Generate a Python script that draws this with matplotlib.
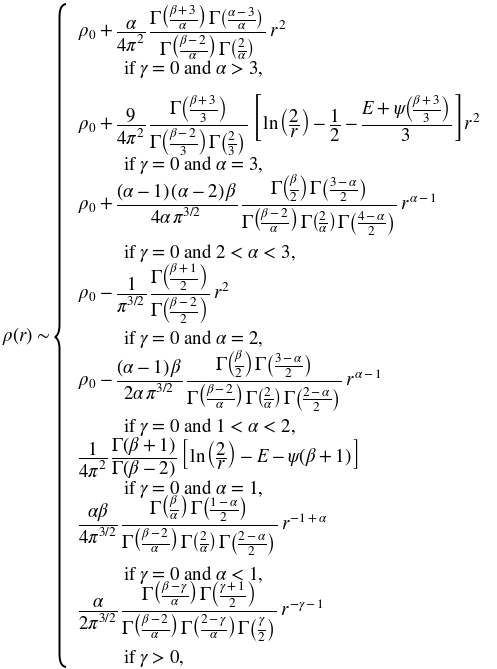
import matplotlib
matplotlib.use('Agg')
import matplotlib.pyplot as plt
from matplotlib.path import Path
from matplotlib.patches import PathPatch

plt.rcParams['font.family'] = 'STIXGeneral'
plt.rcParams['mathtext.fontset'] = 'stix'

P = r'\;{+}\;'
M = r'\;{-}\;'

# case expressions, top to bottom
formulas = [
    r'$\rho_0' + P + r'\dfrac{\alpha}{4\pi^2}\;\dfrac{\Gamma\left(\frac{\beta+3}{\alpha}\right)\,\Gamma\left(\frac{\alpha-3}{\alpha}\right)}'
    r'{\Gamma\left(\frac{\beta-2}{\alpha}\right)\,\Gamma\left(\frac{2}{\alpha}\right)}\;r^2$',
    r'$\rho_0' + P + r'\dfrac{9}{4\pi^2}\;\dfrac{\Gamma\left(\frac{\beta+3}{3}\right)}'
    r'{\Gamma\left(\frac{\beta-2}{3}\right)\,\Gamma\left(\frac{2}{3}\right)}\;'
    r'\left[\,\ln\left(\dfrac{2}{r}\right)' + M + r'\dfrac{1}{2}' + M
    + r'\dfrac{E' + P + r'\psi\left(\frac{\beta+3}{3}\right)}{3}\,\right]r^2$',
    r'$\rho_0' + P + r'\dfrac{(\alpha' + M + r'1)\,(\alpha' + M + r'2)\,\beta}{4\alpha\,\pi^{3/2}}\;'
    r'\dfrac{\Gamma\left(\frac{\beta}{2}\right)\,\Gamma\left(\frac{3-\alpha}{2}\right)}'
    r'{\Gamma\left(\frac{\beta-2}{\alpha}\right)\,\Gamma\left(\frac{2}{\alpha}\right)\,\Gamma\left(\frac{4-\alpha}{2}\right)}\;r^{\alpha-1}$',
    r'$\rho_0' + M + r'\dfrac{1}{\pi^{3/2}}\;\dfrac{\Gamma\left(\frac{\beta+1}{2}\right)}{\Gamma\left(\frac{\beta-2}{2}\right)}\;r^2$',
    r'$\rho_0' + M + r'\dfrac{(\alpha' + M + r'1)\,\beta}{2\alpha\,\pi^{3/2}}\;'
    r'\dfrac{\Gamma\left(\frac{\beta}{2}\right)\,\Gamma\left(\frac{3-\alpha}{2}\right)}'
    r'{\Gamma\left(\frac{\beta-2}{\alpha}\right)\,\Gamma\left(\frac{2}{\alpha}\right)\,\Gamma\left(\frac{2-\alpha}{2}\right)}\;r^{\alpha-1}$',
    r'$\dfrac{1}{4\pi^2}\;\dfrac{\Gamma(\beta' + P + r'1)}{\Gamma(\beta' + M + r'2)}\;'
    r'\left[\,\ln\left(\dfrac{2}{r}\right)' + M + r'E' + M + r'\psi(\beta' + P + r'1)\,\right]$',
    r'$\dfrac{\alpha\beta}{4\pi^{3/2}}\;\dfrac{\Gamma\left(\frac{\beta}{\alpha}\right)\,\Gamma\left(\frac{1-\alpha}{2}\right)}'
    r'{\Gamma\left(\frac{\beta-2}{\alpha}\right)\,\Gamma\left(\frac{2}{\alpha}\right)\,\Gamma\left(\frac{2-\alpha}{2}\right)}\;r^{-1+\alpha}$',
    r'$\dfrac{\alpha}{2\pi^{3/2}}\;\dfrac{\Gamma\left(\frac{\beta-\gamma}{\alpha}\right)\,\Gamma\left(\frac{\gamma+1}{2}\right)}'
    r'{\Gamma\left(\frac{\beta-2}{\alpha}\right)\,\Gamma\left(\frac{2-\gamma}{\alpha}\right)\,\Gamma\left(\frac{\gamma}{2}\right)}\;r^{-\gamma-1}$',
]

conditions = [
    r'if $\gamma\,=\,0$ and $\alpha\,>\,3$,',
    r'if $\gamma\,=\,0$ and $\alpha\,=\,3$,',
    r'if $\gamma\,=\,0$ and $2\,<\,\alpha\,<\,3$,',
    r'if $\gamma\,=\,0$ and $\alpha\,=\,2$,',
    r'if $\gamma\,=\,0$ and $1\,<\,\alpha\,<\,2$,',
    r'if $\gamma\,=\,0$ and $\alpha\,=\,1$,',
    r'if $\gamma\,=\,0$ and $\alpha\,<\,1$,',
    r'if $\gamma\,>\,0$,',
]

# baselines in pixels from the top
formula_y = [37, 130, 210, 298, 386, 463, 530, 616]
cond_y = [74, 170, 258, 344, 432, 494, 580, 663]
x_formula = 78
x_cond = 123
fs = 13.5

fig = plt.figure(figsize=(4.97, 6.69), dpi=100)
ax = fig.add_axes([0, 0, 1, 1])
ax.set_xlim(0, 497)
ax.set_ylim(669, 0)
ax.axis('off')

ax.text(2, 341, r'$\rho(r)\,{\sim}$', fontsize=fs, va='baseline', ha='left')

for f, y in zip(formulas, formula_y):
    ax.text(x_formula, y, f, fontsize=fs, va='baseline', ha='left')
for c, y in zip(conditions, cond_y):
    ax.text(x_cond, y, c, fontsize=fs, va='baseline', ha='left')

# tall left brace
bx, top, mid, bot = 59.5, 4, 337, 667
verts = [
    (66, top), (60, top + 1), (bx, top + 8), (bx, top + 14),
    (bx, mid - 12),
    (bx, mid - 4), (57, mid - 1), (55, mid),
    (57, mid + 1), (bx, mid + 4), (bx, mid + 12),
    (bx, bot - 14),
    (bx, bot - 8), (60, bot - 1), (66, bot),
]
codes = [Path.MOVETO, Path.CURVE4, Path.CURVE4, Path.CURVE4,
         Path.LINETO,
         Path.CURVE4, Path.CURVE4, Path.CURVE4,
         Path.CURVE4, Path.CURVE4, Path.CURVE4,
         Path.LINETO,
         Path.CURVE4, Path.CURVE4, Path.CURVE4]
ax.add_patch(PathPatch(Path(verts, codes), facecolor='none', edgecolor='black', lw=1.4))

fig.savefig('out.png', dpi=100)
